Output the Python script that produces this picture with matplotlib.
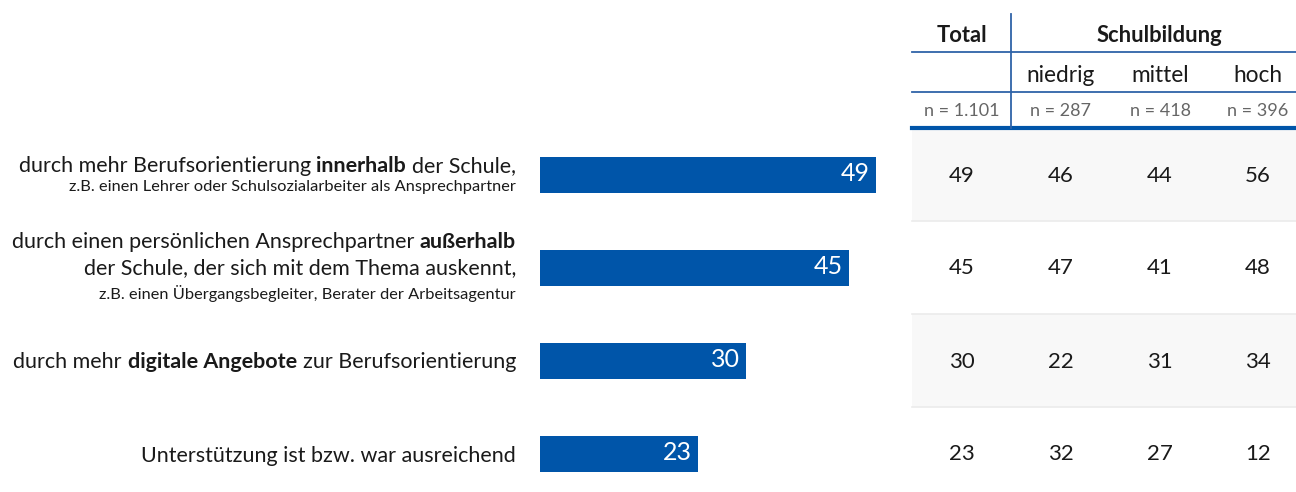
import matplotlib
matplotlib.use("Agg")
import matplotlib.pyplot as plt
from matplotlib.patches import Rectangle

plt.rcParams['font.family'] = ['Lato', 'DejaVu Sans']

# ---------------- data ----------------
labels = [
    [[("durch mehr Berufsorientierung", False), ("innerhalb", True), ("der Schule,", False)],
     [("z.B. einen Lehrer oder Schulsozialarbeiter als Ansprechpartner", False)]],
    [[("durch einen persönlichen Ansprechpartner", False), ("außerhalb", True)],
     [("der Schule, der sich mit dem Thema auskennt,", False)],
     [("z.B. einen Übergangsbegleiter, Berater der Arbeitsagentur", False)]],
    [[("durch mehr", False), ("digitale Angebote", True), ("zur Berufsorientierung", False)]],
    [[("Unterstützung ist bzw. war ausreichend", False)]],
]
small_line = [[False, True], [False, False, True], [False], [False]]
total = [49, 45, 30, 23]
niedrig = [46, 47, 22, 32]
mittel = [44, 41, 31, 27]
hoch = [56, 48, 34, 12]
col_heads = ["niedrig", "mittel", "hoch"]
n_labels = ["n = 1.101", "n = 287", "n = 418", "n = 396"]
group_head = "Schulbildung"
total_head = "Total"

BLUE = "#0055a9"
LINE_BLUE = "#2f63a8"
TXT = "#1a1a1a"

W, H = 1296, 492
fig = plt.figure(figsize=(W / 100, H / 100), dpi=100)

# overlay in pixel coordinates
ov = fig.add_axes([0, 0, 1, 1])
ov.set_xlim(0, W)
ov.set_ylim(H, 0)
ov.axis('off')

# ---------------- table background ----------------
tx0, tx1 = 912, 1296
row_top = 128
row_h = 93
for i in range(4):
    y0 = row_top + i * row_h
    if i % 2 == 0:
        ov.add_patch(Rectangle((tx0, y0), tx1 - tx0, row_h, facecolor="#f8f8f8",
                               edgecolor='none', zorder=0))
    if i > 0:
        ov.plot([tx0, tx1], [y0, y0], color="#ebebeb", lw=1.2, zorder=1)

# header lines
ov.plot([tx0, tx1], [52, 52], color=LINE_BLUE, lw=1.3)
ov.plot([tx0, tx1], [92, 92], color=LINE_BLUE, lw=1.3)
ov.plot([tx0, tx1], [127.5, 127.5], color=BLUE, lw=3)
ov.plot([1011, 1011], [14, 128], color=LINE_BLUE, lw=1.3)

col_x = [962, 1061, 1160, 1258]
ov.text(col_x[0], 36, total_head, ha='center', va='center', fontsize=15.8,
        fontweight='bold', color=TXT)
ov.text((col_x[1] + col_x[3]) / 2, 36, group_head, ha='center', va='center',
        fontsize=15.8, fontweight='bold', color=TXT)
for x, t in zip(col_x[1:], col_heads):
    ov.text(x, 75, t, ha='center', va='center', fontsize=16.3, color=TXT)
for x, t in zip(col_x, n_labels):
    ov.text(x, 111, t, ha='center', va='center', fontsize=13, color="#666666")

row_y = [row_top + row_h / 2 + i * row_h for i in range(4)]
for col, vals in zip(col_x, [total, niedrig, mittel, hoch]):
    for y, v in zip(row_y, vals):
        ov.text(col, y + 1, str(v), ha='center', va='center', fontsize=16, color=TXT)

# ---------------- labels ----------------
line_y = [[166.5, 186.5], [241.5, 268.5, 293.5], [361.5], [456.5]]
xr = 516
for li, lines in enumerate(labels):
    for lj, segs in enumerate(lines):
        y = line_y[li][lj]
        small = small_line[li][lj]
        fs = 11.8 if small else 15.45
        prev = None
        for text, bold in reversed(segs):
            kw = dict(fontsize=fs, fontweight='bold' if bold else 'normal',
                      color=TXT, va='center', ha='right')
            if prev is None:
                prev = ov.text(xr, y, text, **kw)
            else:
                prev = ov.annotate(text, xy=(0, 0.5), xycoords=prev,
                                   xytext=(-0.27 * fs, 0), textcoords='offset points',
                                   **kw)

# ---------------- bars ----------------
bx0, bx1 = 540, 912
scale = 336 / 49.0
ax = fig.add_axes([bx0 / W, 0, (bx1 - bx0) / W, (H - row_top) / H])
ax.set_xlim(0, (bx1 - bx0) / scale)
ax.set_ylim((H - row_y[0]) / row_h, -0.5)
ax.axis('off')
ypos = list(range(len(total)))
ax.barh(ypos, total, height=36 / row_h, color=BLUE)
for yp, v in zip(ypos, total):
    ax.annotate(str(v), xy=(v, yp), xytext=(-6, 1), textcoords='offset pixels',
                ha='right', va='center', color='white', fontsize=18)

fig.savefig("out.png", dpi=100)
